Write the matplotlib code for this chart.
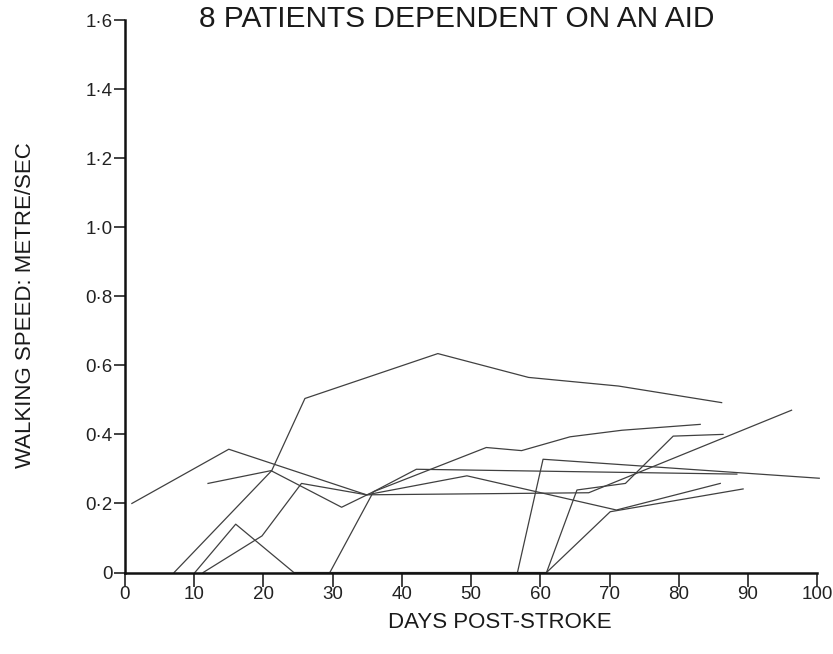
import matplotlib
matplotlib.use("Agg")
import matplotlib.pyplot as plt

plt.rcParams['font.family'] = ['Liberation Sans', 'DejaVu Sans']

# walking speed (m/s) against days post-stroke, one trace per patient
p1_days = [1, 15, 34.9, 67, 96.3]
p1_speed = [0.20, 0.357, 0.225, 0.231, 0.47]

p2_days = [12, 21.1, 31.3, 35.9, 42.1, 88.4]
p2_speed = [0.258, 0.295, 0.189, 0.234, 0.299, 0.285]

p3_days = [7.1, 21.2, 26, 45.2, 58.3, 71.3, 86.2]
p3_speed = [0.0, 0.295, 0.504, 0.634, 0.565, 0.54, 0.492]

p4_days = [10.1, 16, 24.4, 60.9, 65.3, 72.3, 79.2, 86.4]
p4_speed = [0.0, 0.14, 0.0, 0.0, 0.239, 0.258, 0.395, 0.40]

p5_days = [11.3, 19.8, 25.5, 34.9, 49.4, 71.0, 86.0]
p5_speed = [0.0, 0.106, 0.258, 0.225, 0.28, 0.181, 0.258]

p6_days = [29.6, 35.9, 52.2, 57.3, 64.3, 71.8, 83.1]
p6_speed = [0.0, 0.234, 0.362, 0.353, 0.393, 0.412, 0.429]

p7_days = [56.7, 60.4, 100.3]
p7_speed = [0.0, 0.328, 0.273]

p8_days = [60.9, 70.1, 89.3]
p8_speed = [0.0, 0.176, 0.242]

x_ticks = [0, 10, 20, 30, 40, 50, 60, 70, 80, 90, 100]
y_ticks = [0, 0.2, 0.4, 0.6, 0.8, 1.0, 1.2, 1.4, 1.6]
y_tick_labels = ['0', '0·2', '0·4', '0·6', '0·8', '1·0', '1·2', '1·4', '1·6']

patients = [
    (p1_days, p1_speed), (p2_days, p2_speed), (p3_days, p3_speed),
    (p4_days, p4_speed), (p5_days, p5_speed), (p6_days, p6_speed),
    (p7_days, p7_speed), (p8_days, p8_speed),
]

fig = plt.figure(figsize=(8.33, 6.54), dpi=100)
ax = fig.add_axes([0.150, 0.1246, 0.831, 0.8448])

for days, speed in patients:
    ax.plot(days, speed, color='#404040', linewidth=0.9, clip_on=False)

ax.set_xlim(0, 100)
ax.set_ylim(0, 1.6)
ax.set_xticks(x_ticks)
ax.set_yticks(y_ticks)
ax.set_yticklabels(y_tick_labels)

for side in ('top', 'right'):
    ax.spines[side].set_visible(False)
for side in ('left', 'bottom'):
    ax.spines[side].set_linewidth(1.8)
    ax.spines[side].set_color('#111111')

ax.tick_params(axis='both', direction='out', width=1.2,
               color='#222222', labelsize=13.5, labelcolor='#222222')
ax.tick_params(axis='y', length=8, pad=1)
ax.tick_params(axis='x', length=10, pad=0)

fig.text(0.548, 1 - 27 / 654, '8 PATIENTS DEPENDENT ON AN AID',
         ha='center', va='baseline', fontsize=21.5, color='#1a1a1a')
fig.text(0.600, 1 - 622 / 654, 'DAYS POST-STROKE',
         ha='center', va='center', fontsize=16, color='#1a1a1a')
fig.text(26 / 833, 1 - 305 / 654, 'WALKING SPEED: METRE/SEC',
         ha='center', va='center', rotation=90, fontsize=16, color='#1a1a1a')

fig.savefig('out.png', dpi=100)
